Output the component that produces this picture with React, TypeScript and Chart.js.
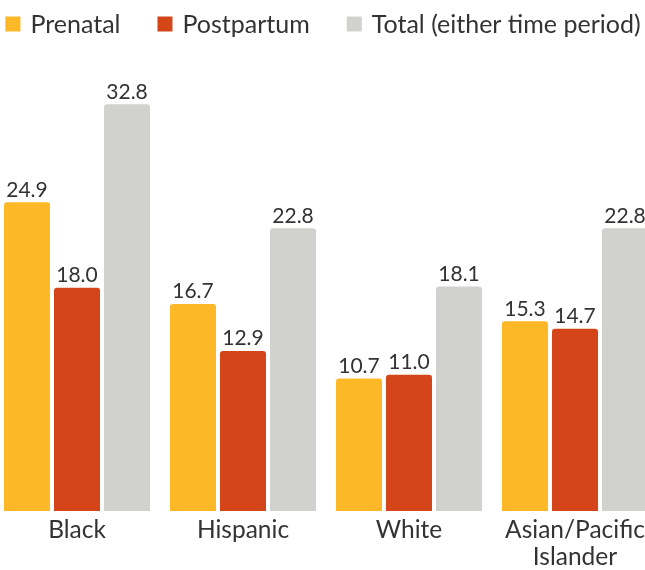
import React, { useEffect, useRef } from "react";
import { Chart, registerables } from "chart.js";

Chart.register(...registerables);

const categories: (string | string[])[] = ["Black", "Hispanic", "White", ["Asian/Pacific", "Islander"]];
const prenatal = [24.9, 16.7, 10.7, 15.3];
const postpartum = [18.0, 12.9, 11.0, 14.7];
const total = [32.8, 22.8, 18.1, 22.8];

const FONT = "Lato, 'Open Sans', sans-serif";
const TEXT = "#333333";

const labelPlugin = {
  id: "barLabels",
  afterDatasetsDraw(chart: any) {
    const ctx = chart.ctx;
    ctx.save();
    ctx.font = `21px ${FONT}`;
    ctx.fillStyle = TEXT;
    ctx.textAlign = "center";
    ctx.textBaseline = "bottom";
    chart.data.datasets.forEach((ds: any, i: number) => {
      const meta = chart.getDatasetMeta(i);
      meta.data.forEach((el: any, j: number) => {
        ctx.fillText(Number(ds.data[j]).toFixed(1), el.x, el.y - 2);
      });
    });
    ctx.restore();
  },
};

// Single-row legend drawn at the top of the canvas
const legendPlugin = {
  id: "rowLegend",
  afterDraw(chart: any) {
    const ctx = chart.ctx;
    ctx.save();
    ctx.font = `25px ${FONT}`;
    ctx.textBaseline = "middle";
    ctx.textAlign = "left";
    const box = 15;
    const gapText = 10;
    const gapItem = 37;
    const items = chart.data.datasets.map((ds: any) => ({
      text: ds.label,
      color: ds.backgroundColor,
      w: ctx.measureText(ds.label).width,
    }));
    const totalW =
      items.reduce((s: number, it: any) => s + box + gapText + it.w, 0) + gapItem * (items.length - 1);
    let x = chart.width / 2 - 3 - totalW / 2;
    const cy = 25;
    items.forEach((it: any) => {
      ctx.fillStyle = it.color;
      ctx.fillRect(x, cy - 1 - box / 2, box, box);
      ctx.fillStyle = TEXT;
      ctx.fillText(it.text, x + box + gapText, cy);
      x += box + gapText + it.w + gapItem;
    });
    ctx.restore();
  },
};

export default function App() {
  const ref = useRef<HTMLCanvasElement>(null);
  useEffect(() => {
    if (!ref.current) return;
    const radius = { topLeft: 3, topRight: 3, bottomLeft: 0, bottomRight: 0 };
    const chart = new Chart(ref.current, {
      type: "bar",
      data: {
        labels: categories,
        datasets: [
          { label: "Prenatal", data: prenatal, backgroundColor: "#FDB827", borderRadius: radius, borderSkipped: "bottom" },
          { label: "Postpartum", data: postpartum, backgroundColor: "#D4461A", borderRadius: radius, borderSkipped: "bottom" },
          { label: "Total (either time period)", data: total, backgroundColor: "#D1D1CE", borderRadius: radius, borderSkipped: "bottom" },
        ],
      },
      options: {
        responsive: false,
        maintainAspectRatio: false,
        animation: false,
        datasets: { bar: { categoryPercentage: 0.904, barPercentage: 0.92 } },
        layout: { padding: { top: 46, bottom: 0, left: 0, right: 0 } },
        plugins: {
          legend: { display: false },
          tooltip: { enabled: false },
        },
        scales: {
          x: {
            grid: { display: false },
            border: { display: false },
            ticks: {
              font: { family: FONT, size: 24.5, lineHeight: 1.1 },
              color: TEXT,
              padding: -2,
              maxRotation: 0,
              autoSkip: false,
            },
          },
          y: {
            display: false,
            min: 0,
            max: 37.5,
          },
        },
      },
      plugins: [labelPlugin, legendPlugin],
    });
    return () => chart.destroy();
  }, []);
  return (
    <div style={{ position: "absolute", left: 0, top: 0, width: 645, height: 570, overflow: "hidden" }}>
      <div style={{ position: "absolute", left: -6, top: 0, width: 664, height: 569 }}>
        <canvas ref={ref} width={664} height={569} style={{ display: "block" }} />
      </div>
    </div>
  );
}
